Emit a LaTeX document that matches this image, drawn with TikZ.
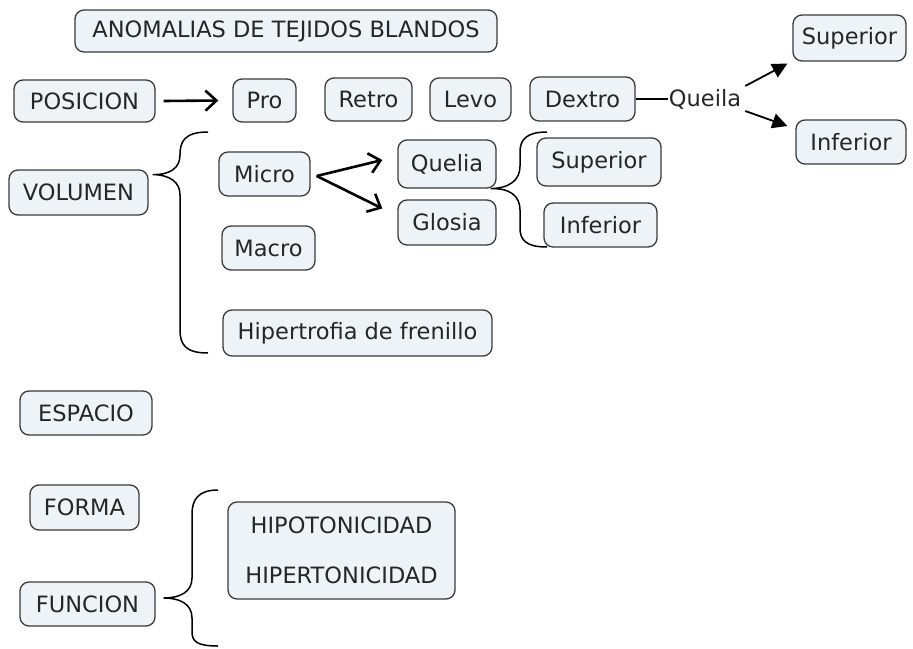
\documentclass[tikz,border=0pt]{standalone}
\usepackage{fontspec}
\setmainfont{DejaVu Sans}
\usetikzlibrary{arrows.meta,calc}
\definecolor{boxfill}{HTML}{EDF3F6}
\definecolor{boxline}{HTML}{3A3A3A}
\definecolor{txt}{HTML}{262626}
\tikzset{
  cbox/.style={draw=boxline, fill=boxfill, line width=1.3pt, rounded corners=9pt,
    text=txt, font=\fontsize{22.5}{26}\selectfont, inner sep=0pt, align=center},
  brc/.style={line width=1.5pt, black},
  thickarrow/.style={line width=2.6pt, -{Straight Barb[length=11pt,width=20pt,line width=2.6pt]}},
  linkarrow/.style={line width=1.8pt, -{Triangle[length=15pt,width=15pt]}},
}
\begin{document}
\begin{tikzpicture}[x=1pt,y=-1pt]
\useasboundingbox (0,0) rectangle (913,648);
% boxes
\node[cbox, minimum width=422pt, minimum height=42pt] (anom) at (286,31) {ANOMALIAS DE TEJIDOS BLANDOS};
\node[cbox, minimum width=141pt, minimum height=42pt] (posicion) at (84.5,101) {POSICION};
\node[cbox, minimum width=63pt, minimum height=43pt] (pro) at (264.5,100.5) {Pro};
\node[cbox, minimum width=87pt, minimum height=43pt] (retro) at (368.5,99.5) {Retro};
\node[cbox, minimum width=81pt, minimum height=43pt] (levo) at (470.5,99.5) {Levo};
\node[cbox, minimum width=105pt, minimum height=44pt] (dextro) at (582.5,99) {Dextro};
\node[cbox, minimum width=113pt, minimum height=46pt] (supR) at (849.5,38) {Superior};
\node[cbox, minimum width=110pt, minimum height=44pt] (infR) at (851,142) {Inferior};
\node[cbox, minimum width=139pt, minimum height=45pt] (volumen) at (78.5,192.5) {VOLUMEN};
\node[cbox, minimum width=91pt, minimum height=44pt] (micro) at (264.5,174) {Micro};
\node[cbox, minimum width=93pt, minimum height=44pt] (macro) at (268.5,248) {Macro};
\node[cbox, minimum width=269pt, minimum height=46pt] (hiper) at (357.5,333) {Hipertrofia de frenillo};
\node[cbox, minimum width=98pt, minimum height=48pt] (quelia) at (447,164) {Quelia};
\node[cbox, minimum width=98pt, minimum height=45pt] (glosia) at (447,222.5) {Glosia};
\node[cbox, minimum width=124pt, minimum height=48pt] (supM) at (599,162) {Superior};
\node[cbox, minimum width=113pt, minimum height=44pt] (infM) at (600.5,225) {Inferior};
\node[cbox, minimum width=132pt, minimum height=44pt] (espacio) at (86,413) {ESPACIO};
\node[cbox, minimum width=109pt, minimum height=45pt] (forma) at (84.5,507.5) {FORMA};
\node[cbox, minimum width=135pt, minimum height=44pt] (funcion) at (87.5,604) {FUNCION};
\node[cbox, minimum width=227pt, minimum height=97pt] (hipo) at (341.5,550.5) {HIPOTONICIDAD\\[24pt]HIPERTONICIDAD};
% link label
\node[text=txt, font=\fontsize{22.5}{26}\selectfont, inner sep=1pt] (queila) at (705,99) {Queila};
% connectors
\draw[thickarrow] ($(posicion.east)+(8,0)$) -- ($(pro.west)+(-14,0)$);
\draw[thickarrow] ($(micro.east)+(6,2)$) -- ($(quelia.west)+(-15,-4)$);
\draw[thickarrow] ($(micro.east)+(6,2)$) -- ($(glosia.west)+(-15,-14)$);
\draw[line width=1.5pt, black] (dextro.east) -- (queila.west);
\draw[linkarrow] ($(queila.east)+(3,-13)$) -- ($(supR.south west)+(-5,2)$);
\draw[linkarrow] ($(queila.east)+(3,12)$) -- ($(infR.west)+(-8,-16)$);
% braces
\coordinate (vtip) at ($(volumen.east)+(4,-18)$);
\coordinate (vtop) at (208,132);
\coordinate (vbot) at (208,353);
\draw[brc] (vtop) .. controls (184,132) and (180,142) .. (180,155)
  .. controls (180,168) and (170,175) .. (vtip)
  .. controls (170,175) and (180,182) .. (180,195)
  -- (180,330) .. controls (180,345) and (186,353) .. (vbot);
\coordinate (qtip) at ($(quelia.south east)+(-6,0)$);
\coordinate (qtop) at (547,132);
\coordinate (qbot) at (547,247);
\draw[brc] (qtop) .. controls (526,132) and (520,140) .. (520,152)
  -- (520,166) .. controls (520,180) and (510,188) .. (qtip)
  .. controls (510,188) and (520,196) .. (520,210)
  -- (520,228) .. controls (520,240) and (526,247) .. (qbot);
\coordinate (ftip) at ($(funcion.east)+(8,-6)$);
\coordinate (ftop) at (218,490);
\coordinate (fbot) at (218,646);
\draw[brc] (ftop) .. controls (198,490) and (192,500) .. (192,514)
  -- (192,578) .. controls (192,592) and (180,598) .. (ftip)
  .. controls (180,598) and (192,604) .. (192,618)
  -- (192,632) .. controls (192,642) and (198,646) .. (fbot);
\end{tikzpicture}
\end{document}
